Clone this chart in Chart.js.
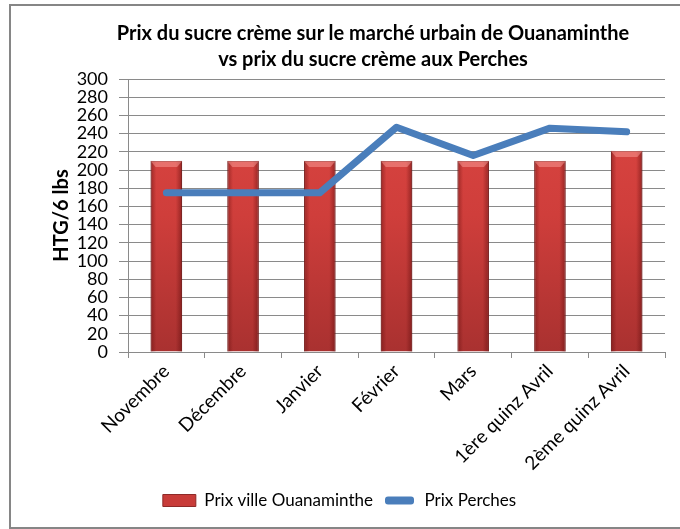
<!DOCTYPE html>
<html>
<head>
<meta charset="utf-8">
<script src="https://cdn.jsdelivr.net/npm/chart.js@4.4.1/dist/chart.umd.min.js"></script>
<style>
    html, body { margin: 0; padding: 0; background: #fff; }
    #wrap { position: relative; width: 680px; height: 529px; overflow: hidden; }
    #chart { position: absolute; left: 0; top: 0; }
    #frame { position: absolute; left: 9px; top: 4px; width: 690px; height: 521px; border: 2px solid #868686; pointer-events: none; }
    #title { position: absolute; left: 73px; top: 19px; width: 600px; text-align: center;
             font: bold 20px Lato, "Open Sans", sans-serif; line-height: 26px; color: #000; white-space: nowrap; }
</style>
</head>
<body>
<div id="wrap">
    <canvas id="chart" width="680" height="529"></canvas>
    <div id="title">Prix du sucre crème sur le marché urbain de Ouanaminthe<br>vs prix du sucre crème aux Perches</div>
    <div id="frame"></div>
</div>
<script>
    // data
    const categories = ['Novembre', 'Décembre', 'Janvier', 'Février', 'Mars', '1ère quinz Avril', '2ème quinz Avril'];
    const prixOuanaminthe = [210, 210, 210, 210, 210, 210, 221];
    const prixPerches = [175, 175, 175, 247, 216, 246, 242];
    const yTicks = { min: 0, max: 300, step: 20 };

    const FONT = 'Lato, "Open Sans", sans-serif';
    const GRID = '#8a8a8a';

    // bar fill: vertical red gradient over the plot area
    function barFill(c) {
        const area = c.chart.chartArea;
        if (!area) return '#cf3f3b';
        const g = c.chart.ctx.createLinearGradient(0, area.top, 0, area.bottom);
        g.addColorStop(0, '#dd4743');
        g.addColorStop(0.5, '#cf3e3b');
        g.addColorStop(1, '#a93130');
        return g;
    }

    // bevel look on the bars, from the element positions
    const bevel = {
        id: 'bevel',
        afterDatasetDraw(chart, args) {
            if (args.index !== 0) return;
            const ctx = chart.ctx;
            args.meta.data.forEach(el => {
                const { x, y, base, width } = el.getProps(['x', 'y', 'base', 'width'], true);
                const l = x - width / 2, r = x + width / 2;
                ctx.save();
                const g = ctx.createLinearGradient(l, 0, r, 0);
                g.addColorStop(0, 'rgba(90,10,10,0.45)');
                g.addColorStop(0.18, 'rgba(90,10,10,0)');
                g.addColorStop(0.8, 'rgba(90,10,10,0)');
                g.addColorStop(1, 'rgba(90,10,10,0.5)');
                ctx.fillStyle = g;
                ctx.fillRect(l, y, width, base - y);
                ctx.beginPath();
                ctx.moveTo(l, y); ctx.lineTo(r, y); ctx.lineTo(r - 5, y + 6); ctx.lineTo(l + 5, y + 6); ctx.closePath();
                ctx.fillStyle = 'rgba(255,170,165,0.45)';
                ctx.fill();
                ctx.restore();
            });
        }
    };

    // legend sits a bit left of the canvas centre in the original
    const legendShift = {
        id: 'legendShift',
        beforeDraw(chart) {
            chart.legend.left -= 16;
            chart.legend.right -= 16;
        }
    };

    new Chart(document.getElementById('chart'), {
        data: {
            labels: categories,
            datasets: [
                {
                    type: 'bar',
                    label: 'Prix ville Ouanaminthe',
                    data: prixOuanaminthe,
                    backgroundColor: barFill,
                    borderColor: '#8e2a28',
                    borderWidth: 1,
                    categoryPercentage: 1,
                    barPercentage: 0.41,
                    order: 1
                },
                {
                    type: 'line',
                    label: 'Prix Perches',
                    data: prixPerches,
                    borderColor: '#4a7ebb',
                    backgroundColor: '#4a7ebb',
                    borderWidth: 7,
                    borderCapStyle: 'round',
                    borderJoinStyle: 'round',
                    pointRadius: 0,
                    tension: 0,
                    order: 0
                }
            ]
        },
        options: {
            responsive: false,
            animation: false,
            layout: { padding: { top: 79, right: 15, bottom: 10, left: 46 } },
            plugins: {
                tooltip: { enabled: false },
                legend: {
                    position: 'bottom',
                    labels: {
                        font: { family: FONT, size: 17 },
                        color: '#000',
                        boxWidth: 33,
                        boxHeight: 12,
                        padding: 10,
                        useBorderRadius: true,
                        sort: (a, b) => a.datasetIndex - b.datasetIndex,
                        generateLabels(chart) {
                            const items = Chart.defaults.plugins.legend.labels.generateLabels(chart);
                            items.forEach(it => {
                                if (it.datasetIndex === 0) {
                                    it.fillStyle = '#c83c39';
                                    it.strokeStyle = '#8e2a28';
                                    it.lineWidth = 1;
                                    it.borderRadius = 0;
                                } else {
                                    it.fillStyle = '#4a7ebb';
                                    it.strokeStyle = '#ffffff';
                                    it.lineWidth = 4;
                                    it.borderRadius = 5;
                                }
                            });
                            return items;
                        }
                    }
                }
            },
            scales: {
                x: {
                    offset: true,
                    afterFit(s) { s.height = 130; },
                    grid: { offset: true, drawOnChartArea: false, color: GRID, tickLength: 6 },
                    border: { color: GRID },
                    ticks: {
                        autoSkip: false,
                        minRotation: 45,
                        maxRotation: 45,
                        padding: 2,
                        color: '#000',
                        font: { family: FONT, size: 19 }
                    }
                },
                y: {
                    min: yTicks.min,
                    max: yTicks.max,
                    afterFit(s) { s.width = 82; },
                    grid: { color: GRID, tickLength: 9 },
                    border: { color: GRID },
                    ticks: {
                        autoSkip: false,
                        stepSize: yTicks.step,
                        padding: 11,
                        color: '#000',
                        font: { family: FONT, size: 18 }
                    },
                    title: {
                        display: true,
                        text: 'HTG/6 lbs',
                        color: '#000',
                        font: { family: FONT, size: 20, weight: 'bold' },
                        padding: { top: 4, bottom: 0 }
                    }
                }
            }
        },
        plugins: [bevel, legendShift]
    });
</script>
</body>
</html>
